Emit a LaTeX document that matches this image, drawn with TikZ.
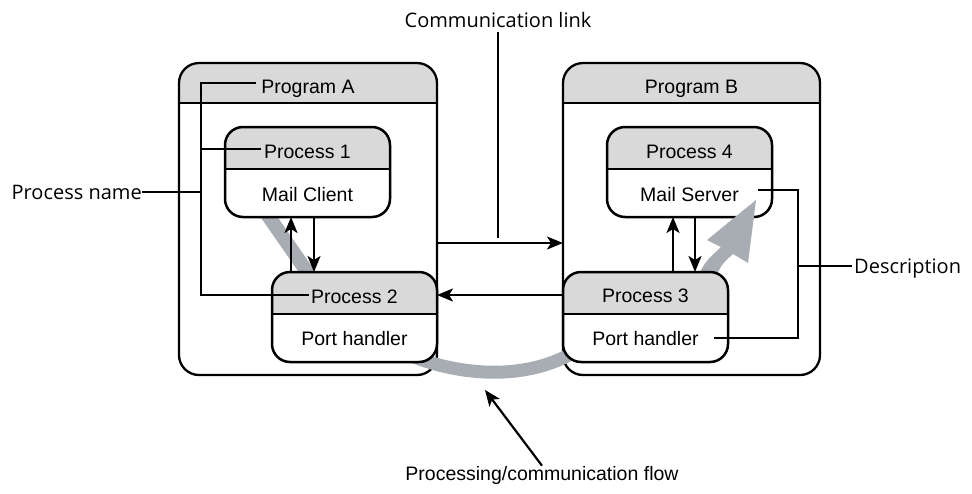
\documentclass[tikz,border=0pt]{standalone}
\usepackage{fontspec}
\setmainfont{Liberation Sans}
\newfontfamily\calloutfont{Open Sans}
\usetikzlibrary{arrows.meta}
\definecolor{hdrgray}{RGB}{217,217,217}
\definecolor{flowgray}{RGB}{168,173,180}

% rounded frame with a grey title strip:
% #1 name, #2 top-left corner, #3 width, #4 height, #5 strip height, #6 corner radius, #7 outline width
\newcommand\headedframe[7]{%
  \node[inner sep=0pt, outer sep=0pt, minimum width=#3, minimum height=#4, anchor=north west] (#1) at #2 {};
  \fill[white, rounded corners=#6] (#1.north west) rectangle (#1.south east);
  \begin{scope}
    \clip[rounded corners=#6] (#1.north west) rectangle (#1.south east);
    \fill[hdrgray] (#1.north west) rectangle ([yshift=-#5]#1.north east);
  \end{scope}
  \draw[line width=1.9pt] ([yshift=-#5]#1.north west) -- ([yshift=-#5]#1.north east);
  \draw[line width=#7, rounded corners=#6] (#1.north west) rectangle (#1.south east);
}

\begin{document}
\begin{tikzpicture}[x=1pt,y=-1pt,
  txt/.style={font=\fontsize{19.5}{23}\selectfont, inner sep=0pt, anchor=base},
  callout/.style={font=\calloutfont\fontsize{20}{24}\selectfont, inner sep=0pt},
  leader/.style={line width=1.7pt},
  arr/.style={line width=2.2pt, -{Stealth[length=16pt,width=13pt,inset=4pt]}},
  flowband/.style={draw=flowgray, line cap=butt},
]
\useasboundingbox (0,0) rectangle (972,493);

% programs
\headedframe{progA}{(179,63)}{258pt}{312pt}{40pt}{20pt}{2.3pt}
\headedframe{progB}{(563,63)}{257pt}{312pt}{40pt}{20pt}{2.3pt}

% processing / communication flow (grey band) behind the processes
\draw[flowband, line width=13pt] (395,348) .. controls (430,368) and (520,392) .. (585,345);
\draw[flowband, line width=14pt] (265.5,212) -- (310,276);

% processes
\headedframe{p1}{(225,127)}{165pt}{90pt}{42pt}{18pt}{2.5pt}
\headedframe{p2}{(272,272)}{165pt}{90pt}{42pt}{18pt}{2.5pt}
\headedframe{p4}{(607,127)}{165pt}{90pt}{42pt}{18pt}{2.5pt}

% flow arrow into the mail server
\fill[flowgray] (697,278) .. controls (705,262) .. (721,247) -- (707,240) -- (756,200)
  -- (748,263) -- (733,254) .. controls (722,264) .. (715,278) -- cycle;

\headedframe{p3}{(563,272)}{165pt}{90pt}{42pt}{18pt}{2.5pt}

% texts
\node[txt] (pa-t) at (308,93) {Program A};
\node[txt] (pb-t) at (691.5,93) {Program B};
\node[txt] (p1-t) at (307.5,158) {Process 1};
\node[txt] (p1-d) at (307.5,201) {Mail Client};
\node[txt] (p2-t) at (354.5,303) {Process 2};
\node[txt] (p2-d) at (354.5,345) {Port handler};
\node[txt] (p4-t) at (689.5,158) {Process 4};
\node[txt] (p4-d) at (689.5,201) {Mail Server};
\node[txt] (p3-t) at (645.5,302) {Process 3};
\node[txt] (p3-d) at (645.5,345) {Port handler};

% callouts
\node[callout, anchor=base] (comm) at (498,27) {Communication link};
\node[callout, anchor=base east] (pname) at (142,199) {Process name};
\node[callout, anchor=base west] (desc) at (854,273) {Description};
\node[txt] (flow) at (542,480) {Processing/communication flow};

% leader lines
\coordinate (ltop) at (201,83);
\coordinate (lmid) at (201,149);
\coordinate (lbot) at (201,295);
\draw[leader] ([xshift=-5pt]pa-t.west |- ltop) -- (ltop) -- (lbot) -- ([xshift=-2pt]p2-t.west |- lbot);
\draw[leader] (lmid) -- ([xshift=-3pt]p1-t.west |- lmid);
\draw[leader] (pname.east) -- (pname.east -| ltop);

\coordinate (dtop) at (798,190);
\coordinate (dmid) at (798,266);
\coordinate (dbot) at (798,338);
\draw[leader] ([xshift=19pt]p4-d.east |- dtop) -- (dtop) -- (dbot) -- ([xshift=15pt]p3-d.east |- dbot);
\draw[leader] (dmid) -- ([xshift=-2pt]desc.west |- dmid);

\coordinate (clink) at (498,238);
\draw[leader] ([yshift=-5pt]comm.south) -- (clink);

% communication arrows
\draw[arr] ([yshift=-24pt]progA.east) -- ([yshift=-24pt]progB.west);
\draw[arr] ([yshift=22pt]p3.west) -- ([yshift=22pt]p2.east);

\coordinate (a1) at (291,0);
\coordinate (a2) at (314,0);
\coordinate (a3) at (673,0);
\coordinate (a4) at (695,0);
\draw[arr] (p2.north -| a1) -- (p1.south -| a1);
\draw[arr] (p1.south -| a2) -- (p2.north -| a2);
\draw[arr] (p3.north -| a3) -- (p4.south -| a3);
\draw[arr] (p4.south -| a4) -- (p3.north -| a4);

\coordinate (fl) at (485,390);
\draw[arr] (flow.north) -- (fl);
\end{tikzpicture}
\end{document}
